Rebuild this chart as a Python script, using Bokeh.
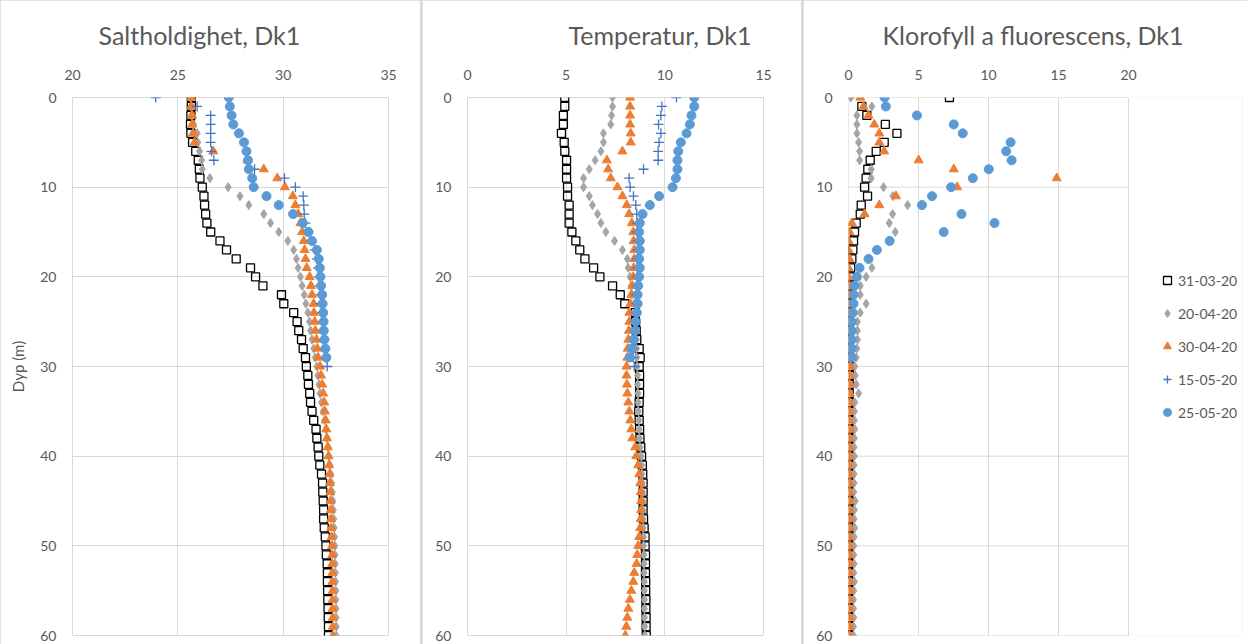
from bokeh.embed import file_html
from bokeh.layouts import row
from bokeh.models import (ColumnDataSource, FixedTicker, Legend, LegendItem,
                          Range1d, Title)
from bokeh.plotting import figure
from bokeh.resources import INLINE

FONT = "Lato"
TEXT = "#595959"
GRID = "#d9d9d9"

# ---------------------------------------------------------------- data ----
dates = ["31-03-20", "20-04-20", "30-04-20", "15-05-20", "25-05-20"]

depth_0_60 = [0, 1, 2, 3, 4, 5, 6, 7, 8, 9, 10, 11, 12, 13, 14, 15, 16, 17, 18, 19,
              20, 21, 22, 23, 24, 25, 26, 27, 28, 29, 30, 31, 32, 33, 34, 35, 36, 37,
              38, 39, 40, 41, 42, 43, 44, 45, 46, 47, 48, 49, 50, 51, 52, 53, 54, 55,
              56, 57, 58, 59, 60]
depth_0_30 = [0, 1, 2, 3, 4, 5, 6, 7, 8, 9, 10, 11, 12, 13, 14, 15, 16, 17, 18, 19,
              20, 21, 22, 23, 24, 25, 26, 27, 28, 29, 30]
depth_0_29 = [0, 1, 2, 3, 4, 5, 6, 7, 8, 9, 10, 11, 12, 13, 14, 15, 16, 17, 18, 19,
              20, 21, 22, 23, 24, 25, 26, 27, 28, 29]

# Salinity
sal_3103 = [25.64, 25.64, 25.62, 25.60, 25.62, 25.70, 25.85, 25.97, 26.02, 26.05,
            26.16, 26.24, 26.27, 26.32, 26.38, 26.56, 27.00, 27.31, 27.77, 28.45,
            28.69, 29.04, 29.92, 30.03, 30.50, 30.66, 30.74, 30.87, 30.95, 31.06,
            31.10, 31.17, 31.20, 31.26, 31.30, 31.37, 31.45, 31.56, 31.60, 31.66,
            31.69, 31.74, 31.82, 31.87, 31.88, 31.90, 31.92, 31.92, 31.95, 32.00,
            32.03, 32.05, 32.09, 32.10, 32.10, 32.11, 32.12, 32.13, 32.14, 32.15, 32.15]
sal_2004 = [25.60, 25.62, 25.65, 25.75, 25.92, 25.95, 26.03, 26.13, 26.16, 26.52,
            27.39, 27.95, 28.37, 29.08, 29.40, 29.79, 30.22, 30.50, 30.63, 30.71,
            30.82, 30.90, 31.00, 31.08, 31.17, 31.25, 31.30, 31.37, 31.45, 31.52,
            31.60, 31.65, 31.70, 31.75, 31.82, 31.90, 31.97, 32.03, 32.08, 32.13,
            32.18, 32.22, 32.26, 32.30, 32.33, 32.36, 32.38, 32.40, 32.42, 32.44,
            32.45, 32.46, 32.47, 32.48, 32.49, 32.50, 32.50, 32.51, 32.51, 32.52, 32.52]
sal_3004 = [25.64, 25.64, 25.68, 25.68, 25.72, 25.80, 26.68, 28.30, 29.08, 29.72,
            30.08, 30.46, 30.58, 30.71, 30.82, 30.90, 30.98, 31.02, 31.06, 31.12,
            31.26, 31.32, 31.37, 31.45, 31.46, 31.50, 31.53, 31.58, 31.62, 31.66,
            31.75, 31.80, 31.85, 31.90, 31.95, 31.98, 32.02, 32.05, 32.08, 32.12,
            32.15, 32.18, 32.20, 32.22, 32.24, 32.25, 32.26, 32.27, 32.28, 32.30,
            32.32, 32.33, 32.33, 32.34, 32.34, 32.35, 32.35, 32.35, 32.36, 32.36, 32.36]
sal_1505 = [23.95, 25.92, 26.56, 26.56, 26.56, 26.56, 26.60, 26.71, 28.64, 30.06,
            30.58, 30.95, 30.98, 31.00, 31.05, 31.20, 31.35, 31.50, 31.60, 31.65,
            31.70, 31.75, 31.78, 31.80, 31.85, 31.88, 31.90, 31.95, 32.00, 32.03, 32.09]
sal_2505 = [27.42, 27.47, 27.55, 27.63, 27.90, 28.14, 28.26, 28.33, 28.37, 28.53,
            28.60, 29.21, 29.79, 30.47, 30.93, 31.20, 31.37, 31.60, 31.69, 31.74,
            31.77, 31.80, 31.85, 31.87, 31.90, 31.92, 31.93, 31.96, 32.00, 32.05]

# Temperature
tmp_3103 = [4.93, 4.93, 4.86, 4.86, 4.76, 4.90, 4.93, 5.02, 5.02, 5.02,
            5.07, 5.07, 5.15, 5.15, 5.15, 5.29, 5.49, 5.69, 5.95, 6.39,
            6.71, 7.35, 7.74, 7.97, 8.50, 8.52, 8.55, 8.58, 8.70, 8.75,
            8.70, 8.72, 8.72, 8.72, 8.70, 8.68, 8.70, 8.72, 8.74, 8.78,
            8.82, 8.86, 8.88, 8.90, 8.90, 8.90, 8.90, 8.92, 8.95, 9.00,
            9.00, 9.02, 9.02, 9.02, 9.03, 9.03, 9.04, 9.04, 9.05, 9.05, 9.06]
tmp_2004 = [7.35, 7.35, 7.30, 7.26, 6.89, 6.89, 6.76, 6.47, 6.17, 5.88,
            5.88, 6.17, 6.33, 6.59, 6.76, 7.01, 7.45, 7.85, 8.10, 8.14,
            8.24, 8.30, 8.35, 8.45, 8.50, 8.52, 8.55, 8.55, 8.56, 8.58,
            8.60, 8.62, 8.62, 8.64, 8.65, 8.66, 8.68, 8.70, 8.72, 8.75,
            8.80, 8.82, 8.84, 8.86, 8.87, 8.88, 8.88, 8.89, 8.90, 8.92,
            8.93, 8.94, 8.95, 8.95, 8.96, 8.96, 8.97, 8.97, 8.97, 8.98, 8.98]
tmp_3004 = [8.24, 8.24, 8.24, 8.24, 8.27, 8.27, 7.85, 7.06, 7.13, 7.26,
            7.60, 7.85, 8.07, 8.19, 8.33, 8.40, 8.42, 8.45, 8.45, 8.43,
            8.40, 8.35, 8.30, 8.25, 8.20, 8.20, 8.18, 8.15, 8.12, 8.10,
            8.06, 8.06, 8.08, 8.10, 8.15, 8.20, 8.25, 8.30, 8.35, 8.50,
            8.55, 8.65, 8.70, 8.75, 8.78, 8.80, 8.80, 8.78, 8.75, 8.70,
            8.65, 8.60, 8.57, 8.45, 8.40, 8.30, 8.23, 8.15, 8.10, 8.05, 8.00]
tmp_1505 = [10.59, 9.85, 9.80, 9.68, 9.80, 9.71, 9.66, 9.66, 8.92, 8.19,
            8.24, 8.41, 8.53, 8.58, 8.60, 8.60, 8.62, 8.62, 8.60, 8.60,
            8.60, 8.58, 8.56, 8.55, 8.52, 8.50, 8.48, 8.45, 8.42, 8.40, 8.45]
tmp_2505 = [11.49, 11.49, 11.35, 11.27, 11.10, 10.81, 10.68, 10.64, 10.64, 10.56,
            10.39, 9.71, 9.24, 8.87, 8.73, 8.70, 8.73, 8.73, 8.70, 8.73,
            8.70, 8.65, 8.62, 8.62, 8.58, 8.53, 8.50, 8.42, 8.31, 8.23]

# Chlorophyll a fluorescence (no profile was taken on 15-05-20)
chl_3103 = [7.21, 0.95, 1.31, 2.63, 3.46, 2.55, 1.98, 1.55, 1.38, 1.26,
            1.15, 1.36, 0.91, 0.84, 0.55, 0.43, 0.36, 0.31, 0.24, 0.15,
            0.10, 0.08, 0.08, 0.07, 0.07, 0.06, 0.06, 0.05, 0.05, 0.05,
            0.05, 0.06, 0.05, 0.05, 0.04, 0.05, 0.05, 0.04, 0.04, 0.05,
            0.04, 0.04, 0.04, 0.05, 0.04, 0.04, 0.04, 0.03, 0.04, 0.04,
            0.03, 0.04, 0.03, 0.03, 0.04, 0.03, 0.03, 0.03, 0.03, 0.03, 0.03]
chl_2004 = [0.17, 1.67, 0.60, 0.60, 0.60, 0.72, 0.79, 0.79, 1.62, 1.62,
            2.50, 3.17, 4.22, 3.15, 2.91, 3.34, 2.86, 2.00, 1.45, 1.67,
            1.26, 0.84, 0.84, 1.26, 0.84, 0.64, 0.64, 0.64, 0.60, 0.55,
            0.45, 0.48, 0.55, 0.72, 0.45, 0.42, 0.42, 0.45, 0.42, 0.40,
            0.42, 0.40, 0.40, 0.40, 0.38, 0.48, 0.42, 0.40, 0.45, 0.40,
            0.38, 0.38, 0.40, 0.38, 0.42, 0.38, 0.36, 0.36, 0.38, 0.36, 0.36]
chl_3004 = [0.84, 1.07, 1.43, 1.84, 2.20, 2.20, 2.55, 5.01, 7.52, 14.87,
            7.76, 3.39, 2.20, 1.15, 0.24, 0.07, 0.00, 0.00, 0.07, 0.00,
            0.00, 0.05, 0.06, 0.05, 0.06, 0.05, 0.06, 0.07, 0.08, 0.08,
            0.12, 0.10, 0.09, 0.10, 0.08, 0.09, 0.08, 0.09, 0.08, 0.08,
            0.09, 0.08, 0.08, 0.09, 0.08, 0.08, 0.08, 0.09, 0.08, 0.08,
            0.08, 0.09, 0.08, 0.08, 0.08, 0.08, 0.09, 0.08, 0.08, 0.08, 0.08]
chl_1505 = [float("nan")]
depth_1505_chl = [float("nan")]
chl_2505 = [2.58, 2.67, 4.89, 7.52, 8.16, 11.58, 11.26, 11.65, 10.02, 8.88,
            7.33, 5.97, 5.25, 8.07, 10.43, 6.80, 2.94, 2.03, 1.43, 0.79,
            0.60, 0.43, 0.36, 0.36, 0.31, 0.24, 0.24, 0.24, 0.24, 0.24]

depth_range = (0, 60)
sal_range = (20, 35)
tmp_range = (0, 15)
chl_range = (0, 20)
sal_ticks = [20, 25, 30, 35]
tmp_ticks = [0, 5, 10, 15]
chl_ticks = [0, 5, 10, 15, 20]
depth_ticks = [0, 10, 20, 30, 40, 50, 60]

# ------------------------------------------------------------- styling ----
STYLES = {
    "31-03-20": dict(marker="square", size=8, fill_color=None, line_color="black",
                     line_width=1.3),
    "20-04-20": dict(marker="diamond", size=9, fill_color="#a5a5a5",
                     line_color="#a5a5a5"),
    "30-04-20": dict(marker="triangle", size=9, fill_color="#ed7d31",
                     line_color="#ed7d31"),
    "15-05-20": dict(marker="cross", size=10, line_color="#4472c4", line_width=1.3),
    "25-05-20": dict(marker="circle", size=9, fill_color="#5b9bd5",
                     line_color="#5b9bd5"),
}

HEIGHT = 644
TOP, BOTTOM = 97, 9


def make_panel(width, left, right, x_range, xticks, title, title_offset, ylabel=None):
    p = figure(width=width, height=HEIGHT, output_backend="svg", toolbar_location=None,
               x_range=x_range, y_range=Range1d(depth_range[1], depth_range[0]),
               x_axis_location="above",
               min_border_left=left, min_border_right=right,
               min_border_top=TOP, min_border_bottom=BOTTOM)
    p.background_fill_color = "white"
    p.border_fill_color = "white"
    p.outline_line_color = GRID

    p.xaxis.ticker = FixedTicker(ticks=xticks)
    p.yaxis.ticker = FixedTicker(ticks=depth_ticks)
    for ax in (p.xaxis[0], p.yaxis[0]):
        ax.axis_line_color = None
        ax.major_tick_line_color = None
        ax.minor_tick_line_color = None
        ax.major_tick_out = 0
        ax.major_label_text_font = FONT
        ax.major_label_text_font_size = "14px"
        ax.major_label_text_color = TEXT
    p.xaxis.major_label_standoff = 18
    p.yaxis.major_label_standoff = 16
    if ylabel:
        p.yaxis.axis_label = ylabel
        p.yaxis.axis_label_text_font = FONT
        p.yaxis.axis_label_text_font_size = "15px"
        p.yaxis.axis_label_text_font_style = "normal"
        p.yaxis.axis_label_text_color = TEXT
        p.yaxis.axis_label_standoff = 10

    p.xgrid.grid_line_color = GRID
    p.ygrid.grid_line_color = GRID

    p.add_layout(Title(text=title, align="left", offset=title_offset, standoff=34,
                       text_font=FONT, text_font_size="25px",
                       text_font_style="normal", text_color=TEXT), "above")
    return p


def add_series(p, values, depths, name):
    src = ColumnDataSource(dict(x=values, y=depths))
    return p.scatter("x", "y", source=src, **STYLES[name])


# Salinity panel
p1 = make_panel(420, 72, 32, Range1d(*sal_range), sal_ticks, "Saltholdighet, Dk1", 26,
                ylabel="Dyp (m)")
add_series(p1, sal_3103, depth_0_60, "31-03-20")
add_series(p1, sal_2004, depth_0_60, "20-04-20")
add_series(p1, sal_3004, depth_0_60, "30-04-20")
add_series(p1, sal_1505, depth_0_30, "15-05-20")
add_series(p1, sal_2505, depth_0_29, "25-05-20")

# Temperature panel
p2 = make_panel(379, 45, 38, Range1d(*tmp_range), tmp_ticks, "Temperatur, Dk1", 101)
add_series(p2, tmp_3103, depth_0_60, "31-03-20")
add_series(p2, tmp_2004, depth_0_60, "20-04-20")
add_series(p2, tmp_3004, depth_0_60, "30-04-20")
add_series(p2, tmp_1505, depth_0_30, "15-05-20")
add_series(p2, tmp_2505, depth_0_29, "25-05-20")

# Chlorophyll panel: the frame runs on to the right edge so the shared legend
# can sit inside it; the 0-20 plot box is drawn from the tick lists.
P3_WIDTH, P3_LEFT, P3_RIGHT, P3_BOX = 444, 45, 5, 280
p3_frame = P3_WIDTH - P3_LEFT - P3_RIGHT
chl_x_end = chl_range[0] + (chl_range[1] - chl_range[0]) * p3_frame / P3_BOX
p3 = make_panel(P3_WIDTH, P3_LEFT, P3_RIGHT, Range1d(chl_range[0], chl_x_end),
                chl_ticks, "Klorofyll a fluorescens, Dk1", 34)
p3.outline_line_color = None
p3.xgrid.visible = False
p3.ygrid.visible = False
box_src = ColumnDataSource(dict(
    x0=chl_ticks + [chl_range[0]] * len(depth_ticks),
    x1=chl_ticks + [chl_range[1]] * len(depth_ticks),
    y0=[depth_range[0]] * len(chl_ticks) + depth_ticks,
    y1=[depth_range[1]] * len(chl_ticks) + depth_ticks,
))
p3.segment("x0", "y0", "x1", "y1", source=box_src, line_color=GRID, line_width=1,
           level="underlay")

r_chl = [
    add_series(p3, chl_3103, depth_0_60, "31-03-20"),
    add_series(p3, chl_2004, depth_0_60, "20-04-20"),
    add_series(p3, chl_3004, depth_0_60, "30-04-20"),
    add_series(p3, chl_1505, depth_1505_chl, "15-05-20"),
    add_series(p3, chl_2505, depth_0_29, "25-05-20"),
]

legend = Legend(items=[LegendItem(label=d, renderers=[r]) for d, r in zip(dates, r_chl)],
                location=(309, 213), orientation="vertical",
                padding=0, margin=0, spacing=13,
                glyph_width=20, glyph_height=20, label_height=20, label_standoff=1,
                label_text_font=FONT, label_text_font_size="14px",
                label_text_color=TEXT, border_line_color=None,
                background_fill_alpha=0)
p3.add_layout(legend)

layout = row(p1, p2, p3, spacing=2, styles={"background-color": GRID})

open("out.html", "w").write(file_html(layout, INLINE))
